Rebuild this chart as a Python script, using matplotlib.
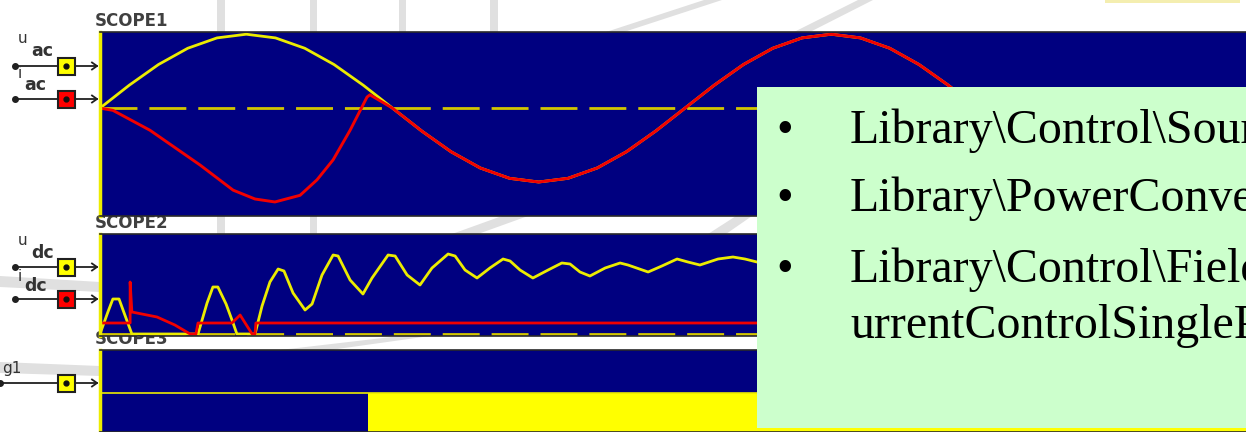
import matplotlib
matplotlib.use("Agg")
import matplotlib.pyplot as plt
from matplotlib.patches import Rectangle, Polygon
from matplotlib.lines import Line2D
from matplotlib.transforms import Affine2D

# ---------------- data (time in ms) ----------------
# SCOPE1: grid voltage u_ac and grid current i_ac (per unit)
t_uac = [0, 1, 2, 3, 4, 5, 6, 7, 8, 9, 10, 11, 12, 13, 14, 15, 16, 17, 18, 19,
         20, 21, 22, 23, 24, 25, 26, 27, 28, 29, 30]
u_ac = [0.00, 0.31, 0.59, 0.81, 0.95, 1.00, 0.95, 0.81, 0.59, 0.31,
        0.00, -0.31, -0.59, -0.81, -0.95, -1.00, -0.95, -0.81, -0.59, -0.31,
        0.00, 0.31, 0.59, 0.81, 0.95, 1.00, 0.95, 0.81, 0.59, 0.31, 0.00]

t_iac = [0, 0.44, 1.71, 3.42, 4.55, 5.30, 5.98, 6.84, 7.42, 7.97, 8.55, 9.13, 9.23,
         10, 11, 12, 13, 14, 15, 16, 17, 18, 19,
         20, 21, 22, 23, 24, 25, 26, 27, 28, 29, 30]
i_ac = [0.00, -0.03, -0.30, -0.77, -1.11, -1.23, -1.27, -1.18, -0.97, -0.70, -0.30, 0.15, 0.18,
        0.00, -0.31, -0.59, -0.81, -0.95, -1.00, -0.95, -0.81, -0.59, -0.31,
        0.00, 0.31, 0.59, 0.81, 0.95, 1.00, 0.95, 0.81, 0.59, 0.31, 0.00]

# SCOPE2: DC-link voltage u_dc and DC current i_dc (per unit)
t_udc = [0.00, 0.27, 0.44, 0.65, 0.85, 1.09, 3.35, 3.66, 3.86, 4.03, 4.31, 4.55, 4.68,
         5.30, 5.54, 5.81, 6.09, 6.29, 6.60, 7.01, 7.25, 7.59, 7.97, 8.14, 8.55, 8.99,
         9.30, 9.85, 10.09, 10.50, 10.94, 11.35, 11.90, 12.14, 12.48, 12.89, 13.33,
         13.78, 14.02, 14.36, 14.80, 15.32, 15.79, 16.07, 16.41, 16.75, 17.27, 17.78,
         18.05, 18.74, 19.21, 19.73, 20.10, 20.51, 21.13, 21.64, 22.05, 22.46, 22.80]
u_dc = [0.00, 0.22, 0.35, 0.35, 0.19, 0.00, 0.00, 0.31, 0.47, 0.47, 0.30, 0.11, 0.00,
        0.00, 0.28, 0.52, 0.65, 0.63, 0.41, 0.24, 0.30, 0.59, 0.79, 0.78, 0.54, 0.40,
        0.56, 0.79, 0.78, 0.59, 0.49, 0.66, 0.80, 0.78, 0.64, 0.56, 0.66,
        0.75, 0.73, 0.64, 0.56, 0.64, 0.71, 0.70, 0.62, 0.58, 0.66, 0.71,
        0.69, 0.62, 0.68, 0.75, 0.72, 0.69, 0.75, 0.77, 0.75, 0.72, 0.73]

t_idc = [0.00, 1.03, 1.03, 1.09, 1.95, 2.56, 3.08, 3.28, 3.35, 4.51, 4.79, 5.20, 5.30, 5.33, 23.0]
i_dc = [0.11, 0.11, 0.52, 0.22, 0.17, 0.09, 0.00, 0.00, 0.11, 0.11, 0.19, 0.00, 0.00, 0.11, 0.11]

# SCOPE3: gate signal g1 (switching starts at 9.16 ms)
t_g1 = [0.00, 9.16, 39.2]
g1 = [0, 1, 1]
g1_level = 1.0

bullets = ["Library\\Control\\Sources",
           "Library\\PowerConverters",
           "Library\\Control\\FieldOrientedControl\\C",
           "urrentControlSinglePhase"]

# ---------------- styling ----------------
W, H = 1246, 432
NAVY = "#000080"
YEL = "#ecec00"
DASH_YEL = "#d2c600"
RED = "#f20000"
GRAY_BG = "#e0e0e0"

fig = plt.figure(figsize=(W / 100, H / 100), dpi=100)
fig.patch.set_facecolor("white")
px = Affine2D().scale(1 / W, -1 / H).translate(0, 1) + fig.transFigure

# light slide decoration behind the scopes
for x0, x1 in [(217, 225), (310, 317), (399, 406), (490, 498)]:
    fig.add_artist(Rectangle((x0, 0), x1 - x0, 32, transform=px, color=GRAY_BG, lw=0, zorder=-3))
for x0, x1 in [(217, 225), (310, 317)]:
    fig.add_artist(Rectangle((x0, 216), x1 - x0, 18, transform=px, color=GRAY_BG, lw=0, zorder=-3))
for pts in [[(606, 32), (624, 32), (722, 0), (704, 0)],
            [(794, 32), (810, 32), (873, 0), (858, 0)],
            [(452, 234), (478, 234), (528, 216), (502, 216)],
            [(708, 234), (726, 234), (752, 216), (736, 216)],
            [(280, 350), (330, 350), (430, 336), (400, 336)],
            [(0, 276), (0, 287), (100, 292), (100, 282)],
            [(0, 362), (0, 373), (100, 376), (100, 366)]]:
    fig.add_artist(Polygon(pts, closed=True, transform=px, color=GRAY_BG, lw=0, zorder=-3))
fig.add_artist(Rectangle((1105, 0), 135, 2.5, transform=px, color="#f4eeb0", lw=0, zorder=-3))


def panel(top, bottom):
    ax = fig.add_axes([100 / W, 1 - bottom / H, 1 - 100 / W, (bottom - top) / H])
    ax.set_facecolor(NAVY)
    ax.set_xticks([])
    ax.set_yticks([])
    ax.set_xlim(0, 39.18)
    for s in ("top", "bottom"):
        ax.spines[s].set_color("#2a2a2a")
        ax.spines[s].set_linewidth(1.2)
    ax.spines["right"].set_visible(False)
    ax.spines["left"].set_color(YEL)
    ax.spines["left"].set_linewidth(2.5)
    return ax


# SCOPE1
ax1 = panel(32, 216)
ax1.set_ylim(-1.46, 1.03)
ax1.axhline(0, color=DASH_YEL, lw=2, dashes=(13.3, 4.3))
ax1.plot(t_uac, u_ac, color=YEL, lw=2)
ax1.plot(t_iac, i_ac, color=RED, lw=2.1)

# SCOPE2
ax2 = panel(234, 336)
ax2.set_ylim(-0.02, 1.0)
ax2.axhline(0, color=DASH_YEL, lw=2, dashes=(13.3, 4.3))
ax2.plot(t_udc, u_dc, color=YEL, lw=2)
ax2.plot(t_idc, i_dc, color=RED, lw=2)

# SCOPE3
ax3 = panel(350, 432)
ax3.set_ylim(0, 2.1)
ax3.axhline(g1_level, color=YEL, lw=1.2)
ax3.fill_between(t_g1, 0, g1, step="post", color="#ffff00", lw=0)

# scope titles (partly tucked under the panel above)
for name, base in [("SCOPE1", 26), ("SCOPE2", 228), ("SCOPE3", 344)]:
    fig.text(95, base, name, transform=px, fontsize=12, fontweight="bold",
             color="#404040", va="baseline", ha="left", zorder=-1)

# input connectors with probe squares
def connector(y, x0, color, label, sub, lx, sx, ly, sy):
    fig.add_artist(Line2D([x0, 97], [y, y], color="#202020", lw=1.3, transform=px, zorder=2))
    fig.add_artist(Line2D([x0], [y], marker="o", ms=4, color="#202020", transform=px, zorder=2))
    fig.add_artist(Line2D([92, 97, 92], [y - 3.5, y, y + 3.5], color="#202020", lw=1.3,
                          transform=px, zorder=2))
    fig.add_artist(Rectangle((57.5, y - 8.5), 17, 17, transform=px, facecolor=color,
                             edgecolor="#202020", lw=1.5, zorder=3))
    fig.add_artist(Line2D([66], [y], marker="o", ms=3.5, color="#101010", transform=px, zorder=4))
    fig.text(lx, ly, label, transform=px, fontsize=11, color="#333333",
             va="baseline", ha="left")
    if sub:
        fig.text(sx, sy, sub, transform=px, fontsize=12.5, fontweight="bold", color="#333333",
                 va="baseline", ha="left")


connector(66, 15, "#ffff00", "u", "ac", 18, 31, 43, 56)
connector(99, 15, "#ff0000", "i", "ac", 18, 24, 78, 90)
connector(267, 15, "#ffff00", "u", "dc", 18, 31, 245, 258)
connector(299, 15, "#ff0000", "i", "dc", 18, 24, 281, 291)
connector(383, 0, "#ffff00", "g1", None, 2, 0, 373, 0)

# green note box with library paths
fig.add_artist(Rectangle((757, 87), 500, 341, transform=px, facecolor="#ccffcc",
                         edgecolor="none", zorder=10))
bases = [143, 211, 282, 338]
for i, (txt, b) in enumerate(zip(bullets, bases)):
    if i < 3:
        fig.text(785, b, "\u2022", transform=px, fontsize=34.5, family="Liberation Serif",
                 va="baseline", ha="center", color="black", zorder=11)
    fig.text(850, b, txt, transform=px, fontsize=34.5, family="Liberation Serif",
             va="baseline", ha="left", color="black", zorder=11)

fig.savefig("out.png", dpi=100)
